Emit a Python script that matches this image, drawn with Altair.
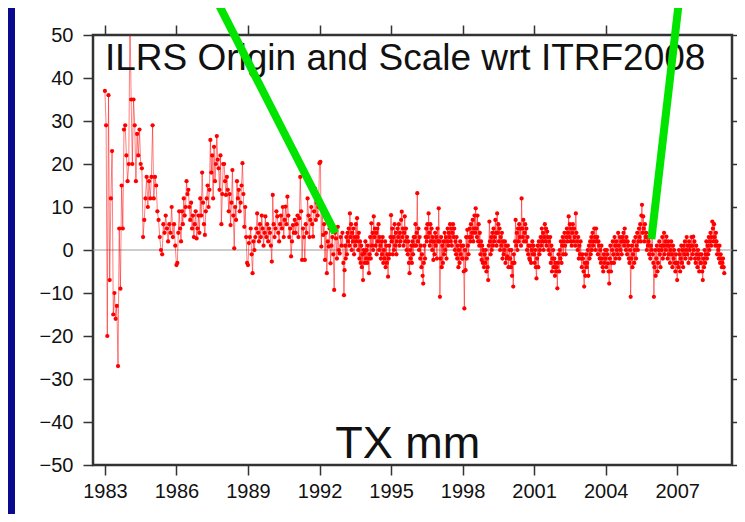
import altair as alt
import pandas as pd

# ---- TX translation series (mm), values per year ----
y1983 = [37, 29, -20, 36, -7, 12, 23, -15, -10, -16, -13, -27, 5, -9, 15, 5, 28, 29, 22, 16]
y1984 = [20, 55, 35, 20, 35, 29, 16, 27, 22, 28, 20, 19, 3, 7, 12, 17, 10, 16, 12, 17]
y1985 = [29, 12, 17, 15, 9, 7, 3, 0, -1, 6, 4, 8, 5, 2, 6, 4, 10, 3, 6, 1]
y1986 = [-3.5, -3, 4, 9, 5, 2, 9, 6, 12, 8, 10, 16, 13, 14, 10, 7, 11, 5, 8, 3, 6, 9, 2.7, 5, 8, 4]
y1987 = [12, 8, 18, 11, 6, 3.5, 9, 12, 15, 10, 14, 25.6, 18, 22, 12, 24, 16, 20, 26.5, 21, 19, 14, 22, 6, 13, 20]
y1988 = [20, 16, 12.8, 17, 14, 9, 13, 5.8, 11, 18.6, 8, 0.4, 10, 7, 16, 12, 14, 9, 11, 15, 20.2, 13, 5.4, 10, 3, -3]
y1989 = [-3.5, 1.6, 3, 5, -1, -5.4, 2, 0, 3, 5, 8.5, 4, 2, 6, 3, 8, 5, 1, 4, 7.8, 3, 6, 2, 5, 4, 1]
y1990 = [-2.7, 12.8, 6, 3, 5, 9, 7.8, 4, 2, 6, 8, 5, 10, 3, 7, 10.1, 6, 12.4, 8, 3, 5, -1.5, 2, 5.8, 4, 7]
y1991 = [4, 6, 8, 3, 7.4, 17, 9, -2.3, 5, 3, -2.3, 6, 4, 12, 8, 3, 7, 10, 6, 3.1, 9, 14.3, 7, 11, 8, 10]
y1992 = [20.2, 20.5, 0.8, 10, 3.5, 6, -2.3, 4, -5.4, 2, 0.8, 5, -3.1, 1, 3, -1, -9.3, 4, 2.7, -2, 5.4, 0, -0.8, 3, 1, 4]
y1993 = [-3, -10.5, -4.7, 1, -2, 3, -1, 4, 2, 5, 1, 8.5, 3, 6, 0, 4, 2, 5, -1, 3, 1, 6, 2, 7.4, 3, 0, 4, -2, 2, -3, 1, -4, -1, -7, 0, -0.8, -3, 2, -2, 0]
y1994 = [-3, 1, -2, -5.4, -1, 3, -2, 6.2, 1, 4, 0, 7.8, 3, 5, 1, 4, -1, 5, 2, 6, 0, 3, 1, -2, 2, -1, 3, -3, 0, -2, 2, -4, 1, -3, -1, -6.2, -2, 1, -1, 3]
y1995 = [8.1, 2, 5, -1, 3, 0, 6, 1, 4, -1, 2, 5, 3, 6, 1, 4, 2, 7, 8.9, 3, 5, 1, 4, 7.8, 2, 5, 0, 3, -1, 2, -3, -5.4, 0, -2, 1, -3, 2, -1, 3, 1]
y1996 = [3, 6, 1, 4, 13.2, 2, 5, 0, 3, -2, 1, -4, -1, -6, -7.8, -3, 1, -2, 3, 5, 2, 6, 3, 8.5, 4, 1, 6, 2, 5, 0, 3, -2.3, 2, -1, 4, 1, 3, -2, 5, 2]
y1997 = [9.7, 2, -10.9, -2, 3, -4, 1, -3, 2, -1, 4, 0, 3, -2, 2, 5, 1, 4, 3, 6, 2, 5, 1, 4, 6, 3, 5, 0, 2, -1, 3, -2, 1, -4, 0, -3, 2, -1, 1, -2]
y1998 = [-2, 1, -5, -13.6, 0, -4.7, 3, -2, 4.7, 1, -1, 3, 5, 2, 6, 3, 4, 7, 2, 5, 8, 4, 9.7, 5, 3, 8, 2, 6, 1, 4, -1, 2, -2.3, 1, -3, 0, -4, -1, -3, 0]
y1999 = [-5, -2, -4, -7, 1, 6.6, 2, -1, 3, 0, 4, 1, 5, 2, 3, 7, 4, 1, 8.5, 4, 6, 2, 5, 0, 3, 1, 4, -2, 2, -1, 0, 2, -3, 1, -2, -1.5, 1, -4, -2, 0]
y2000 = [-2, -4, 0, -6, -3, -8.5, -1, -3, 2, 7, 1, 4, 0, 5, 2, 6, 3, 5, 1, 12, 5, 3, 7, 2, 4, 6, 2, 5, 0, 3, -1, 1, -2, -2.3, 1, -3, 0, 2, -1, 1]
y2001 = [-1, -3, 0, -4, -6.6, -2, 1, -4, 2, -1, 0, 3, 1, 5, 2, 4, 0, 3, 6, 2, 5, 1, 4.3, 3, 0, 2, -1, 3, -3, 1, -5, -2, 0, -4, -2, -6, -3, -5, -4, -8.9]
y2002 = [-3, -1, -5, 0, -2, 2, -3, 1, 3, -1, 2, 4, 1, -1, 3, 5, 2, 4, 7.8, 3, 6, 2, 5, 1, 4, 6, 2, 5, 3, 1, 8.5, 4, 2, 0, 3, -2, 1, -1, 2, -2]
y2003 = [-4, -1, -2, -5, -8.5, -3, -6, -1, -4, -3, 0, -6, 1, -2, 2, -1, 3, 0, 4, 1, 2, 5, 3, 0, 5, 2, 3, -1, 2, 1, -2, 0, -3, 1, -2, -4, -5, -1, -3, 0]
y2004 = [-2, -4, 0, -1, -3.1, -5, -7.8, -2, 1, -5, -3, 0, 2, -1, -3, 3, 1, -2, 2, 0, -1, 4, 1, -2, 3, 0, 2, -1, 3, 2, 4, 1, 5, 2, 0, 3, -1, 2, 1, -2]
y2005 = [-3, 0, -10.9, -2, 1, -4, -1, 2, -3, 0, 3, -2, 1, 4, 0, 2, 5, 3, 6, 2, 8, 10.5, 4, 7.8, 5, 2, 6, 3, 4, 0, 3, 1, 2, -1, 3, -2, 1, 0, 3, -1]
y2006 = [-3, -10.9, -4, 0, -6, -2, 1, -5, -3, 0, 2, -1, -4, 1, 0, 3, -2, 1, 4, -1, 2, 0, 3.1, 1, -2, 2, -1, 1, -3, 0, 2, -1, -4, 1, -2, 0, -3, -5, -1, -3]
y2007 = [-7, -3, -4, 0, -1, -5, -2, 1, -3, 0, -4, 1, -1, 2, -2, 0, 3, -1, 1, -3, 2, 0, 1, -2, 3, 1, -1, 3.1, 0, 2, -2, -3, 1, -1, -4, 0, -2, -5, -1, -3]
y2008 = [-3, -1, -5, -7, -2, -4, 0, -3, -1, 2, -2, 1, -1, 3, 0, 2, 4, 1, 3, 6.6, 5, 2, 6, 3, 1, 4, 2, -1, 1, 0, -2, 1, -3, -1, -2, -4, -3, -2, -4, -5.4]

year_starts = list(range(1983, 2009))
year_lists = [y1983, y1984, y1985, y1986, y1987, y1988, y1989, y1990, y1991, y1992,
              y1993, y1994, y1995, y1996, y1997, y1998, y1999, y2000, y2001, y2002,
              y2003, y2004, y2005, y2006, y2007, y2008]

x_ticks = [1983, 1986, 1989, 1992, 1995, 1998, 2001, 2004, 2007]
y_ticks = [-50, -40, -30, -20, -10, 0, 10, 20, 30, 40, 50]
x_domain = [1982.5, 2009.3]
y_domain = [-50, 50]

title_text = "ILRS Origin and Scale wrt ITRF2008"
title_pos = (1983.0, 41.9)
unit_text = "TX mm"
unit_pos = (1995.7, -48.4)

# green pointer lines (year, value) start/end
pointer_id = ["a", "a", "b", "b"]
pointer_t = [1987.68, 1992.66, 2007.08, 2005.92]
pointer_v = [58.1, 3.95, 58.1, 2.56]

rows = []
for yr, vals in zip(year_starts, year_lists):
    n = len(vals)
    for i, v in enumerate(vals):
        rows.append({"t": yr + i / n, "v": v})
df = pd.DataFrame(rows)

xs = alt.Scale(domain=x_domain, nice=False, zero=False)
ys = alt.Scale(domain=y_domain, nice=False, zero=False)

FONT = "Liberation Sans"
axis_common = dict(domain=False, grid=False, title=None, tickColor="#333333",
                   tickWidth=1.5, labelFont=FONT, labelFontSize=20,
                   labelColor="#111111")

# left blue strip (slide background)
strip = alt.Chart(pd.DataFrame({"k": [0]})).mark_rect(color="#0a0a8e").encode(
    x=alt.value(-85), x2=alt.value(-78), y=alt.value(-27), y2=alt.value(480)
)

# zero line, carrying the top/right tick-only axes
zero_df = pd.DataFrame({"t": [x_domain[0]], "t2": [x_domain[1]], "v": [0]})
zero = alt.Chart(zero_df).mark_rule(color="#999999", strokeWidth=1.2).encode(
    x=alt.X("t:Q", scale=xs, axis=alt.Axis(orient="top", values=x_ticks, labels=False,
                                           tickSize=10, **axis_common)),
    x2="t2:Q",
    y=alt.Y("v:Q", scale=ys, axis=alt.Axis(orient="right", values=y_ticks, labels=False,
                                           tickSize=8, **axis_common)),
)

line = alt.Chart(df).mark_line(color="#ff0000", strokeWidth=1, opacity=0.5, clip=True).encode(
    x=alt.X("t:Q", scale=xs, axis=alt.Axis(orient="bottom", values=x_ticks, format="d",
                                           tickSize=10, labelPadding=6, **axis_common)),
    y=alt.Y("v:Q", scale=ys, axis=alt.Axis(orient="left", values=y_ticks, format="d",
                                           tickSize=10, labelPadding=10, **axis_common)),
)

pts = alt.Chart(df).mark_point(filled=True, color="#ff0000", size=18, opacity=1, clip=True).encode(
    x=alt.X("t:Q", scale=xs, axis=None),
    y=alt.Y("v:Q", scale=ys, axis=None),
)

ptr_df = pd.DataFrame({"g": pointer_id, "t": pointer_t, "v": pointer_v})
pointers = alt.Chart(ptr_df).mark_line(color="#00e400", strokeWidth=8, strokeCap="butt", clip=False).encode(
    x=alt.X("t:Q", scale=xs, axis=None),
    y=alt.Y("v:Q", scale=ys, axis=None),
    detail="g:N",
)

title = alt.Chart(pd.DataFrame({"t": [title_pos[0]], "v": [title_pos[1]], "s": [title_text]})).mark_text(
    align="left", baseline="alphabetic", font=FONT, fontSize=37, color="#111111"
).encode(x=alt.X("t:Q", scale=xs, axis=None), y=alt.Y("v:Q", scale=ys, axis=None), text="s:N")

unit = alt.Chart(pd.DataFrame({"t": [unit_pos[0]], "v": [unit_pos[1]], "s": [unit_text]})).mark_text(
    align="center", baseline="alphabetic", font=FONT, fontSize=45, color="#111111"
).encode(x=alt.X("t:Q", scale=xs, axis=None), y=alt.Y("v:Q", scale=ys, axis=None), text="s:N")

chart = alt.layer(strip, zero, line, pts, title, unit, pointers).resolve_axis(
    x="independent", y="independent"
).properties(
    width=639, height=430,
    padding={"left": 85, "top": 27, "right": 5, "bottom": 49},
    autosize=alt.AutoSizeParams(type="none"),
    background="white",
).configure_view(stroke="#333333", strokeWidth=2.5)

chart.save("out.html", embed_options={"renderer": "svg", "actions": False})
